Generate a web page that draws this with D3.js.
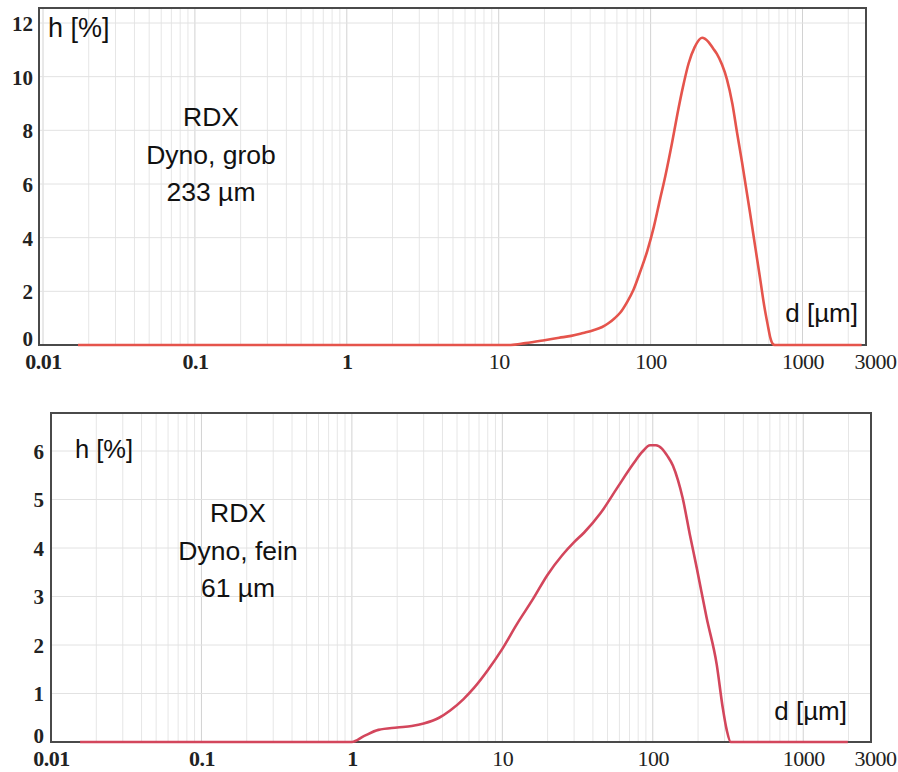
<!DOCTYPE html>
<html>
<head>
<meta charset="utf-8">
<script src="https://cdn.jsdelivr.net/npm/d3@7/dist/d3.min.js"></script>
<style>
  html, body { margin: 0; padding: 0; background: #ffffff; }
  svg { display: block; }
</style>
</head>
<body>
<svg id="chart" width="898" height="772"></svg>
<script>
// ---------- data ----------
const xTickValues = [0.01, 0.1, 1, 10, 100, 1000, 3000];
const xTickLabels = ["0.01", "0.1", "1", "10", "100", "1000", "3000"];
const topYTicks = [0, 2, 4, 6, 8, 10, 12];
const bottomYTicks = [0, 1, 2, 3, 4, 5, 6];

// RDX Dyno, grob (233 µm)
const coarseD = [0.017, 12, 15, 20, 25, 30, 36, 42, 48, 53, 58, 63, 70, 77, 85, 95, 105, 115, 125, 138, 150, 163, 178, 195, 218, 240, 258, 273, 295, 318, 345, 371, 400, 452, 490, 525, 560, 590, 612, 635, 655, 2450];
const coarseH = [0, 0, 0.07, 0.18, 0.27, 0.34, 0.45, 0.55, 0.67, 0.82, 1.0, 1.2, 1.6, 2.05, 2.7, 3.5, 4.4, 5.4, 6.3, 7.5, 8.6, 9.6, 10.5, 11.1, 11.45, 11.3, 11.05, 10.85, 10.45, 9.9, 9.0, 7.9, 6.8, 4.9, 3.6, 2.5, 1.45, 0.75, 0.3, 0.05, 0, 0];

// RDX Dyno, fein (61 µm)
const fineD = [0.0156, 1.0, 1.2, 1.5, 2.0, 2.5, 3.0, 3.8, 4.5, 5.5, 6.5, 8, 10, 12.5, 16, 20, 25, 30, 35, 45, 58, 74, 85, 96, 105, 115, 125, 136, 147, 158, 176, 196, 228, 266, 292, 310, 330, 1980];
const fineH = [0, 0, 0.12, 0.25, 0.3, 0.33, 0.38, 0.5, 0.65, 0.88, 1.12, 1.48, 1.92, 2.43, 2.95, 3.45, 3.85, 4.12, 4.32, 4.72, 5.24, 5.73, 5.98, 6.12, 6.12, 6.05, 5.9, 5.7, 5.4, 5.03, 4.29, 3.59, 2.56, 1.6, 0.7, 0.25, 0, 0];

const topLabels = ["RDX", "Dyno, grob", "233 µm"];
const bottomLabels = ["RDX", "Dyno, fein", "61 µm"];
const yTitle = "h [%]";
const xTitle = "d [µm]";

// ---------- layout ----------
const panels = [
  {
    d: coarseD, h: coarseH, yTicks: topYTicks, yMax: 12, labels: topLabels,
    frame: {left: 39, right: 866, top: 8, bottom: 345},
    xRange: [43, 875], yRange: [345, 23],
    yLabelX: 33, xLabelY: 369, color: "#e5544c",
    labelCx: 211, labelY0: 126, hTitle: {x: 48, y: 37, size: 27},
    dTitle: {x: 858, y: 322}
  },
  {
    d: fineD, h: fineH, yTicks: bottomYTicks, yMax: 6, labels: bottomLabels,
    frame: {left: 51, right: 871, top: 413, bottom: 742},
    xRange: [51, 875], yRange: [742, 451],
    yLabelX: 44, xLabelY: 766, color: "#d3465c",
    labelCx: 238, labelY0: 522, hTitle: {x: 75, y: 458, size: 25.5},
    dTitle: {x: 847, y: 720}
  }
];

const svg = d3.select("#chart");

panels.forEach(p => {
  const g = svg.append("g");
  const x = d3.scaleLog().domain([0.01, 3000]).range(p.xRange);
  const y = d3.scaleLinear().domain([0, p.yMax]).range(p.yRange);
  const f = p.frame;

  // vertical grid (log minor + decades)
  const gridX = x.ticks().filter(v => x(v) > f.left + 1 && x(v) < f.right - 1);
  g.append("g").selectAll("line").data(gridX).join("line")
    .attr("x1", d => x(d)).attr("x2", d => x(d))
    .attr("y1", f.top).attr("y2", f.bottom)
    .attr("stroke", d => {
      const l = Math.log10(d);
      return Math.abs(l - Math.round(l)) < 1e-6 ? "#d2d2d2" : "#e6e6e6";
    })
    .attr("stroke-width", 1);

  // horizontal grid
  g.append("g").selectAll("line").data(p.yTicks.filter(v => v > 0)).join("line")
    .attr("x1", f.left).attr("x2", f.right)
    .attr("y1", d => y(d)).attr("y2", d => y(d))
    .attr("stroke", "#e2e2e2").attr("stroke-width", 1);

  // frame
  g.append("rect")
    .attr("x", f.left).attr("y", f.top)
    .attr("width", f.right - f.left).attr("height", f.bottom - f.top)
    .attr("fill", "none").attr("stroke", "#4a4a4a").attr("stroke-width", 2);

  // curve
  const pts = p.d.map((d, i) => [d, p.h[i]]);
  const line = d3.line()
    .x(d => x(d[0])).y(d => y(d[1]))
    .curve(d3.curveMonotoneX);
  g.append("path").datum(pts)
    .attr("d", line)
    .attr("fill", "none")
    .attr("stroke", p.color)
    .attr("stroke-width", 2.6)
    .attr("stroke-linejoin", "round");

  // x axis labels
  const xAxis = d3.axisBottom(x)
    .tickValues(xTickValues)
    .tickFormat((d, i) => xTickLabels[i])
    .tickSize(0).tickPadding(0);
  const xa = g.append("g").attr("transform", `translate(0,${p.xLabelY})`).call(xAxis);
  xa.select(".domain").remove();
  xa.selectAll("text")
    .attr("dy", 0).attr("y", 0)
    .style("font-family", "'Liberation Serif', 'Times New Roman', serif")
    .style("font-size", "22px")
    .style("font-weight", d => d < 10 ? "bold" : "normal")
    .style("letter-spacing", "-0.5px")
    .attr("fill", "#222");

  // y axis labels
  const yAxis = d3.axisLeft(y).tickValues(p.yTicks).tickFormat(d3.format("d"))
    .tickSize(0).tickPadding(0);
  const ya = g.append("g").attr("transform", `translate(${p.yLabelX},0)`).call(yAxis);
  ya.select(".domain").remove();
  ya.selectAll("text")
    .attr("x", 0).attr("dy", d => d === 0 ? "0.0em" : "0.35em")
    .style("font-family", "'Liberation Serif', 'Times New Roman', serif")
    .style("font-size", "21px")
    .style("font-weight", "bold")
    .attr("fill", "#222");

  // titles
  g.append("text")
    .attr("x", p.hTitle.x).attr("y", p.hTitle.y)
    .attr("font-family", "'Liberation Sans', Arial, sans-serif")
    .attr("font-size", p.hTitle.size).attr("fill", "#111")
    .text(yTitle);
  g.append("text")
    .attr("x", p.dTitle.x).attr("y", p.dTitle.y)
    .attr("text-anchor", "end")
    .attr("font-family", "'Liberation Sans', Arial, sans-serif")
    .attr("font-size", 26).attr("fill", "#111")
    .text(xTitle);

  // sample annotation
  g.append("g").selectAll("text").data(p.labels).join("text")
    .attr("x", p.labelCx)
    .attr("y", (d, i) => p.labelY0 + i * 37.5)
    .attr("text-anchor", "middle")
    .attr("font-family", "'Liberation Sans', Arial, sans-serif")
    .attr("font-size", 26.5).attr("fill", "#111")
    .text(d => d);
});
</script>
</body>
</html>
